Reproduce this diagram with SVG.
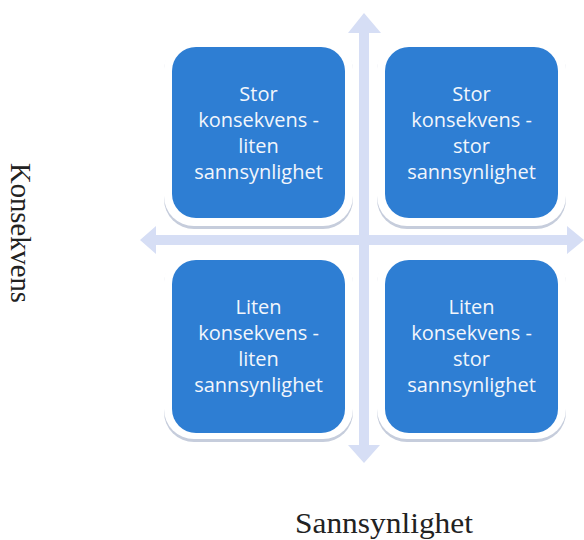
<svg xmlns="http://www.w3.org/2000/svg" width="584" height="540" viewBox="0 0 584 540">
  <defs>
    <style>
      .arrow { fill: #d6def5; }
      .frame { fill: #ffffff; }
      .shadow { fill: #c6cddc; }
      .box { fill: #2e7ed3; }
      .lbl { font-family: "Open Sans", "Liberation Sans", sans-serif; font-size: 20px; fill: #f2f6fc; text-anchor: middle; }
      .axis { font-family: "Liberation Serif", "Times New Roman", serif; font-size: 30px; fill: #222222; }
    </style>
  </defs>
  <rect width="584" height="540" fill="#ffffff"/>

  <g id="connectors">
    <polygon class="arrow" points="364,13 381,33 369,33 369,445 380,445 364,463 348,445 359,445 359,33 348,33"/>
    <polygon class="arrow" points="140,240 156,226 156,235 567,235 567,226 584,240 567,254 567,245 156,245 156,254"/>
  </g>

  <g id="box-stor-liten">
    <rect class="shadow" x="164" y="41" width="189" height="188" rx="30"/>
    <rect class="frame" x="164" y="39" width="189" height="187" rx="30"/>
    <rect class="box" x="172" y="47" width="173" height="171" rx="24"/>
    <text class="lbl" x="258.5" y="101">Stor</text>
    <text class="lbl" x="258.5" y="127">konsekvens -</text>
    <text class="lbl" x="258.5" y="153">liten</text>
    <text class="lbl" x="258.5" y="179">sannsynlighet</text>
  </g>

  <g id="box-stor-stor">
    <rect class="shadow" x="377" y="41" width="189" height="188" rx="30"/>
    <rect class="frame" x="377" y="39" width="189" height="187" rx="30"/>
    <rect class="box" x="385" y="47" width="173" height="171" rx="24"/>
    <text class="lbl" x="471.5" y="101">Stor</text>
    <text class="lbl" x="471.5" y="127">konsekvens -</text>
    <text class="lbl" x="471.5" y="153">stor</text>
    <text class="lbl" x="471.5" y="179">sannsynlighet</text>
  </g>

  <g id="box-liten-liten">
    <rect class="shadow" x="164" y="254" width="189" height="188" rx="30"/>
    <rect class="frame" x="164" y="252" width="189" height="187" rx="30"/>
    <rect class="box" x="172" y="260" width="173" height="173" rx="24"/>
    <text class="lbl" x="258.5" y="314">Liten</text>
    <text class="lbl" x="258.5" y="340">konsekvens -</text>
    <text class="lbl" x="258.5" y="366">liten</text>
    <text class="lbl" x="258.5" y="392">sannsynlighet</text>
  </g>

  <g id="box-liten-stor">
    <rect class="shadow" x="377" y="254" width="189" height="188" rx="30"/>
    <rect class="frame" x="377" y="252" width="189" height="187" rx="30"/>
    <rect class="box" x="385" y="260" width="173" height="173" rx="24"/>
    <text class="lbl" x="471.5" y="314">Liten</text>
    <text class="lbl" x="471.5" y="340">konsekvens -</text>
    <text class="lbl" x="471.5" y="366">stor</text>
    <text class="lbl" x="471.5" y="392">sannsynlighet</text>
  </g>

  <g id="axis-labels">
    <text class="axis" x="295" y="533" textLength="178" lengthAdjust="spacingAndGlyphs">Sannsynlighet</text>
    <text class="axis" transform="translate(11,163) rotate(90)" x="0" y="0" textLength="140" lengthAdjust="spacingAndGlyphs">Konsekvens</text>
  </g>
</svg>
